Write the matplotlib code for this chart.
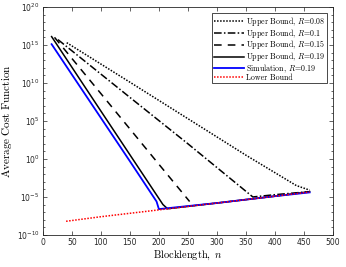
import numpy as np
import matplotlib.pyplot as plt
from matplotlib.ticker import FuncFormatter

plt.rcParams['mathtext.fontset'] = 'cm'

# values (log10 of cost)
n_ub008 = [41, 150, 250, 350, 437, 460]
y_ub008 = [15.3, 10.1, 5.3, 0.5, -3.5, -4.1]

n_ub01 = [26, 150, 250, 362, 400, 460]
y_ub01 = [15.7, 8.1, 2.0, -5.0, -4.7, -4.3]

n_ub015 = [20, 100, 200, 253]
y_ub015 = [16.0, 8.6, -0.7, -5.6]

n_ub019 = [15, 100, 207, 215, 300, 400, 460]
y_ub019 = [16.1, 6.3, -6.0, -6.55, -5.8, -4.9, -4.3]

n_sim = [15, 50, 100, 150, 196, 200, 250, 300, 400, 460]
y_sim = [15.1, 11.1, 5.4, -0.3, -5.6, -6.6, -6.2, -5.8, -4.9, -4.4]

n_lb = [40, 100, 200, 300, 400, 460]
y_lb = [-8.2, -7.6, -6.7, -5.8, -4.9, -4.35]

fig = plt.figure(figsize=(3.46, 2.67), dpi=100)
ax = fig.add_axes([0.124, 0.12, 0.838, 0.854])

lw = 1.1
ax.plot(n_ub008, 10.0**np.array(y_ub008), color='k', ls=(0, (1, 1)), lw=lw,
        label=r'Upper Bound, $R$=0.08')
ax.plot(n_ub01, 10.0**np.array(y_ub01), color='k', ls=(0, (5, 1.5, 1, 1.5)), lw=lw,
        label=r'Upper Bound, $R$=0.1')
ax.plot(n_ub015, 10.0**np.array(y_ub015), color='k', ls=(0, (5, 4)), lw=lw,
        label=r'Upper Bound, $R$=0.15')
ax.plot(n_ub019, 10.0**np.array(y_ub019), color='k', ls='-', lw=lw,
        label=r'Upper Bound, $R$=0.19')
ax.plot(n_sim, 10.0**np.array(y_sim), color='b', ls='-', lw=lw + 0.2,
        label=r'Simulation, $R$=0.19')
ax.plot(n_lb, 10.0**np.array(y_lb), color='r', ls=(0, (1, 1)), lw=lw,
        label='Lower Bound')

ax.set_yscale('log')
ax.set_xlim(0, 500)
ax.set_ylim(1e-10, 1e20)
ax.set_xticks(range(0, 501, 50))
ax.set_yticks([10.0**k for k in range(-10, 21, 5)])
ax.set_yticks([10.0**k for k in range(-10, 21)], minor=True)
ax.yaxis.set_major_formatter(FuncFormatter(
    lambda v, p: r'$\mathdefault{10^{%d}}$' % round(np.log10(v))))
ax.yaxis.set_minor_formatter(plt.NullFormatter())
ax.tick_params(which='both', direction='in', top=True, right=True,
               labelsize=5.5, colors='#262626', width=0.5, pad=2.5)
ax.tick_params(which='major', length=3)
ax.tick_params(which='minor', length=1.5)
for s in ax.spines.values():
    s.set_linewidth(0.6)
    s.set_color('#262626')

ax.set_xlabel(r'$\mathrm{Blocklength},\ n$', fontsize=7.5, labelpad=1)
ax.set_ylabel(r'$\mathrm{Average\ Cost\ Function}$', fontsize=8)
ax.yaxis.set_label_coords(-0.1, 0.5)

leg = ax.legend(loc='upper right', handlelength=3.8, handletextpad=0.2,
                borderpad=0.2, labelspacing=-0.15, borderaxespad=0.8,
                fancybox=False, framealpha=1, edgecolor='k',
                prop={'family': 'serif', 'size': 5.7})
leg.get_frame().set_linewidth(0.5)
for t in leg.get_texts():
    t.set_fontfamily('cmr10')

fig.savefig('out.png', dpi=100)
